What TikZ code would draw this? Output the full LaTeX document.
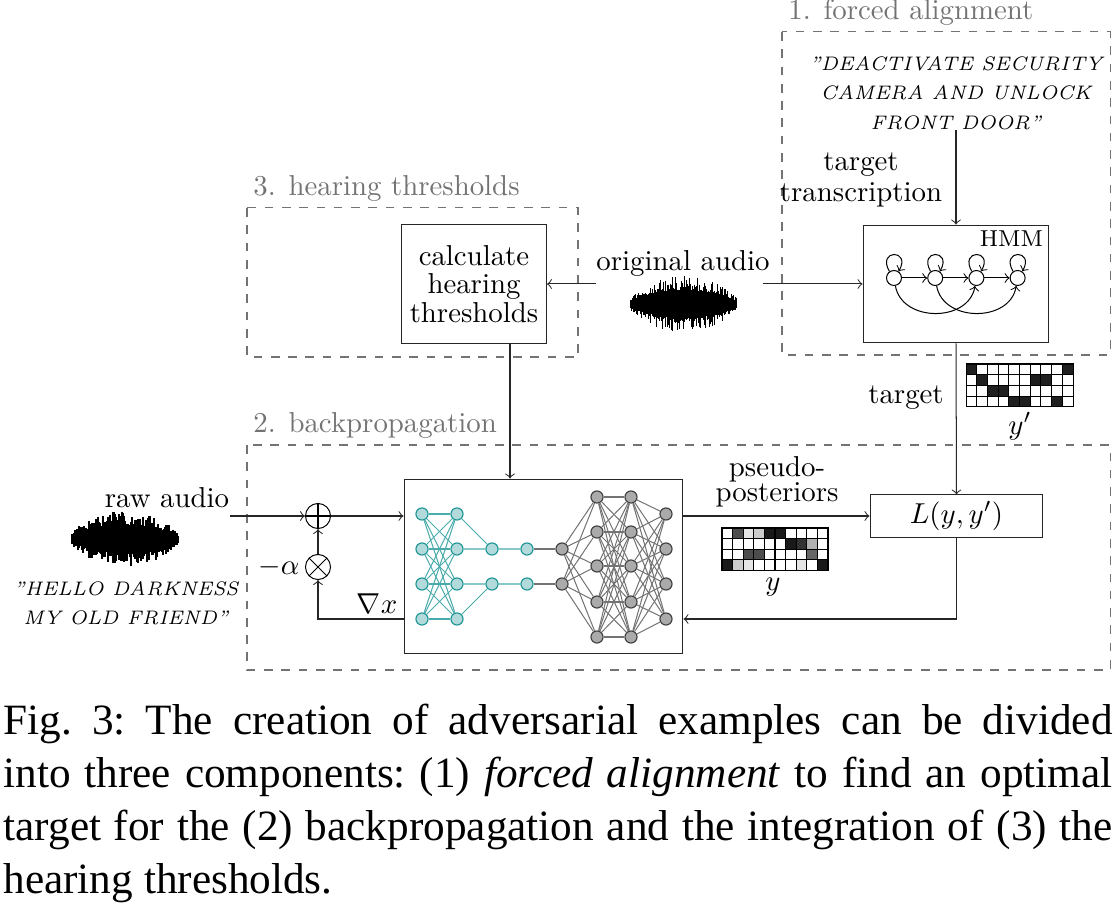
\documentclass[tikz,border=0pt]{standalone}
\usepackage{amsmath}
\usepackage{amssymb}
\usepackage{fontspec}
\usepackage{tikz}
\usetikzlibrary{arrows,automata,positioning}
\newfontfamily\capfont{Liberation Serif}
\definecolor{nnteal}{RGB}{30,150,150}
\definecolor{nnfill}{RGB}{178,218,218}
\definecolor{nngray}{RGB}{170,170,170}
\definecolor{grpgray}{RGB}{115,115,115}

\begin{document}
\begin{tikzpicture}[x=0.347pt,y=-0.347pt,>=to,node distance=14.3pt,
  plain box/.style={rectangle,draw=black!85,line width=0.35pt,inner sep=0pt},
  grp/.style={draw=grpgray,dashed,line width=0.35pt},
  grp label/.style={text=grpgray,anchor=south west,inner sep=2pt},
  flow/.style={->,line width=0.35pt,draw=black!85},
  lbl/.style={align=center,inner sep=0pt,font=\fontsize{10}{10}\selectfont},
  quote text/.style={align=center,inner sep=0pt,font=\fontsize{6.8}{10.2}\selectfont\itshape},
  state node/.style={circle,draw,line width=0.35pt,fill=white,minimum size=5.2pt,inner sep=0pt},
  teal node/.style={circle,draw=nnteal,fill=nnfill,minimum size=4.2pt,inner sep=0pt,line width=0.4pt},
  gray node/.style={circle,draw=black!75,fill=nngray,minimum size=4.2pt,inner sep=0pt,line width=0.4pt},
  teal edge/.style={draw=nnteal!80,line width=0.35pt},
  gray edge/.style={draw=black!55,line width=0.35pt},
  op node/.style={circle,draw,line width=0.35pt,minimum size=8.7pt,inner sep=0pt},
  plus node/.style={op node,path picture={\draw[line width=0.35pt] (path picture bounding box.north) -- (path picture bounding box.south) (path picture bounding box.west) -- (path picture bounding box.east);}},
  times node/.style={op node,path picture={\draw[line width=0.35pt] (path picture bounding box.north west) -- (path picture bounding box.south east) (path picture bounding box.north east) -- (path picture bounding box.south west);}},
  capt/.style={anchor=base west,inner sep=0pt,font=\capfont\fontsize{15}{14}\selectfont\frenchspacing},
  wave/.pic={
    \foreach \i in {-53,...,53}{
      \pgfmathsetmacro\env{3+25*(1-(\i/56)*(\i/56))^0.85}
      \pgfmathsetmacro\up{\env*(0.5+0.5*rnd^1.5)}
      \pgfmathsetmacro\dn{\env*(0.5+0.5*rnd^1.5)}
      \draw[line width=0.42pt] (\i,-\up) -- (\i,\dn);
    }
  }]
  \useasboundingbox (0,0) rectangle (1118,905);
  \pgfmathsetseed{42}

  % groups
  \draw[grp] (782,32) rectangle (1110,355);
  \draw[grp] (247,208) rectangle (578,357);
  \draw[grp] (247,445) rectangle (1110,670);
  \node[grp label] (falbl) at (782,32) {1. forced alignment};
  \node[grp label] (htlbl) at (247,208) {3. hearing thresholds};
  \node[grp label] (bplbl) at (247,445) {2. backpropagation};

  % forced alignment
  \node[quote text] (cmd) at (956,93) {"DEACTIVATE SECURITY\\CAMERA AND UNLOCK\\FRONT DOOR''};
  \node[lbl,font=\fontsize{10}{11}\selectfont] (translbl) at (861,180) {target\\transcription};
  \node[plain box,minimum width=64.5pt,minimum height=40.9pt] (hmm) at (956,284) {};
  \node[anchor=north east,inner sep=2pt,font=\footnotesize] (hmmlbl) at (hmm.north east) {HMM};
  \node[state node] (hmm1) at (894,278) {};
  \node[state node,right of=hmm1] (hmm2) {};
  \node[state node,right of=hmm2] (hmm3) {};
  \node[state node,right of=hmm3] (hmm4) {};

  \foreach \s in {hmm1,hmm2,hmm3,hmm4}
    \draw[->,line width=0.35pt] (\s.125) .. controls +(120:9pt) and +(60:9pt) .. (\s.55);
  \path[->,line width=0.35pt]
    (hmm1) edge (hmm2)
    (hmm2) edge (hmm3)
    (hmm3) edge (hmm4)
    (hmm1) edge[out=-80,in=-100,looseness=1.2] (hmm3)
    (hmm2) edge[out=-80,in=-100,looseness=1.2] (hmm4);

  % audio in
  \node[lbl] (origlbl) at (683,263) {original audio};
  \pic (origwave) at (683.5,304) {wave};
  \node[minimum width=57.3pt,minimum height=20pt,inner sep=0pt] (orig) at (679.5,284) {};
  \node[plain box,minimum width=50.3pt,minimum height=41.3pt] (hear) at (474,284) {};
  \node[lbl] (hearlbl) at (hear) {calculate\\hearing\\thresholds};

  \node[lbl] (rawlbl) at (167,498) {raw audio};
  \pic (rawwave) at (125,539) {wave};
  \node[quote text] (song) at (126,603) {"HELLO DARKNESS\\MY OLD FRIEND''};
  \coordinate (rawin) at (230,516);

  % backpropagation
  \node[plus node] (plus) at (318,516) {};
  \node[times node] (times) at (318,567) {};
  \node[lbl] (alphalbl) at (279,567) {$-\alpha$};
  \node[lbl] (gradlbl) at (377,604) {$\nabla x$};
  \coordinate (fb) at (318,619);
  \coordinate (thr) at (510,400);
  \node[plain box,minimum width=96.8pt,minimum height=60.7pt] (nn) at (543.5,566.5) {};
  \node[plain box,minimum width=60pt,minimum height=14.6pt] (loss) at (956.5,516) {$L(y,y')$};
  \node[lbl,font=\fontsize{10}{8.7}\selectfont] (postlbl) at (777,482) {pseudo-\\posteriors};
  \node[lbl] (ylbl) at (773,587) {$y$};
  \node[lbl] (targetlbl) at (906,398) {target};
  \node[lbl] (yplbl) at (1020,426) {$y'$};

  % network
  \foreach \i/\y in {1/514,2/549,3/584,4/619}{
    \node[teal node] (a\i) at (422,\y) {};
    \node[teal node] (b\i) at (457,\y) {};
    \node[gray node] (h\i) at (666,\y) {};
  }
  \foreach \i/\y in {1/549,2/584}{
    \node[teal node] (c\i) at (492,\y) {};
    \node[teal node] (d\i) at (527,\y) {};
    \node[gray node] (e\i) at (562,\y) {};
  }
  \foreach \i/\y in {1/497,2/532,3/566,4/602,5/637}{
    \node[gray node] (f\i) at (597,\y) {};
    \node[gray node] (g\i) at (631,\y) {};
  }
  \foreach \i in {1,...,4} \foreach \j in {1,...,4} \draw[teal edge] (a\i) -- (b\j);
  \draw[teal edge] (b1) -- (c1) (b2) -- (c1) (b3) -- (c2) (b4) -- (c2) (c1) -- (d1) (c2) -- (d2);
  \draw[gray edge] (d1) -- (e1) (d2) -- (e2);
  \foreach \i in {1,2} \foreach \j in {1,...,5} \draw[gray edge] (e\i) -- (f\j);
  \foreach \i in {1,...,5} \foreach \j in {1,...,5} \draw[gray edge] (f\i) -- (g\j);
  \foreach \i in {1,...,5} \foreach \j in {1,...,4} \draw[gray edge] (g\i) -- (h\j);

  % posteriors and target
  \foreach \r/\row in {0/{0,70,10,20,90,90,0,0,0,0},1/{0,0,0,0,0,0,90,80,30,0},2/{0,0,70,70,0,0,0,0,60,0},3/{90,20,10,0,0,0,0,10,0,90}}
    \foreach \v [count=\c from 0] in \row
      \filldraw[fill=black!\v,draw=black,line width=0.35pt] (722+10.6*\c,528+10.6*\r) rectangle ++(10.6,10.6);
  \foreach \r/\row in {0/{88,0,0,0,0,0,0,0,0,88},1/{0,88,0,0,0,0,88,88,0,0},2/{0,0,88,88,0,0,0,0,0,0},3/{0,0,0,0,88,88,0,0,88,0}}
    \foreach \v [count=\c from 0] in \row
      \filldraw[fill=black!\v,draw=black,line width=0.35pt] (966+10.7*\c,364+10.7*\r) rectangle ++(10.7,10.7);

  % connections
  \draw[flow] (cmd.south) -- (hmm.north);
  \draw[flow] (orig.west) -- (hear.east);
  \draw[flow] (orig.east) -- (hmm.west);
  \draw[flow] (hmm.south) -- (loss.north);
  \draw[flow] (hear.south -| thr) -- (nn.north -| thr);
  \draw[flow] (rawin) -- (plus);
  \draw[flow] (plus) -- (nn.west |- plus);
  \draw[flow] (times) -- (plus);
  \draw[flow] (nn.west |- fb) -- (fb) -- (times);
  \draw[flow] (nn.east |- loss) -- (loss);
  \draw[flow] (loss.south) |- (nn.east |- fb);

  % caption
  \node[capt] (cap1) at (3,735) {\makebox[384.8pt][s]{Fig.\ 3: The creation of adversarial examples can be divided}};
  \node[capt] (cap2) at (3,788) {\makebox[384.8pt][s]{into three components: (1) \textit{forced alignment} to find an optimal}};
  \node[capt] (cap3) at (3,841) {\makebox[384.8pt][s]{target for the (2) backpropagation and the integration of (3) the}};
  \node[capt] (cap4) at (3,894) {hearing thresholds.};
\end{tikzpicture}
\end{document}
